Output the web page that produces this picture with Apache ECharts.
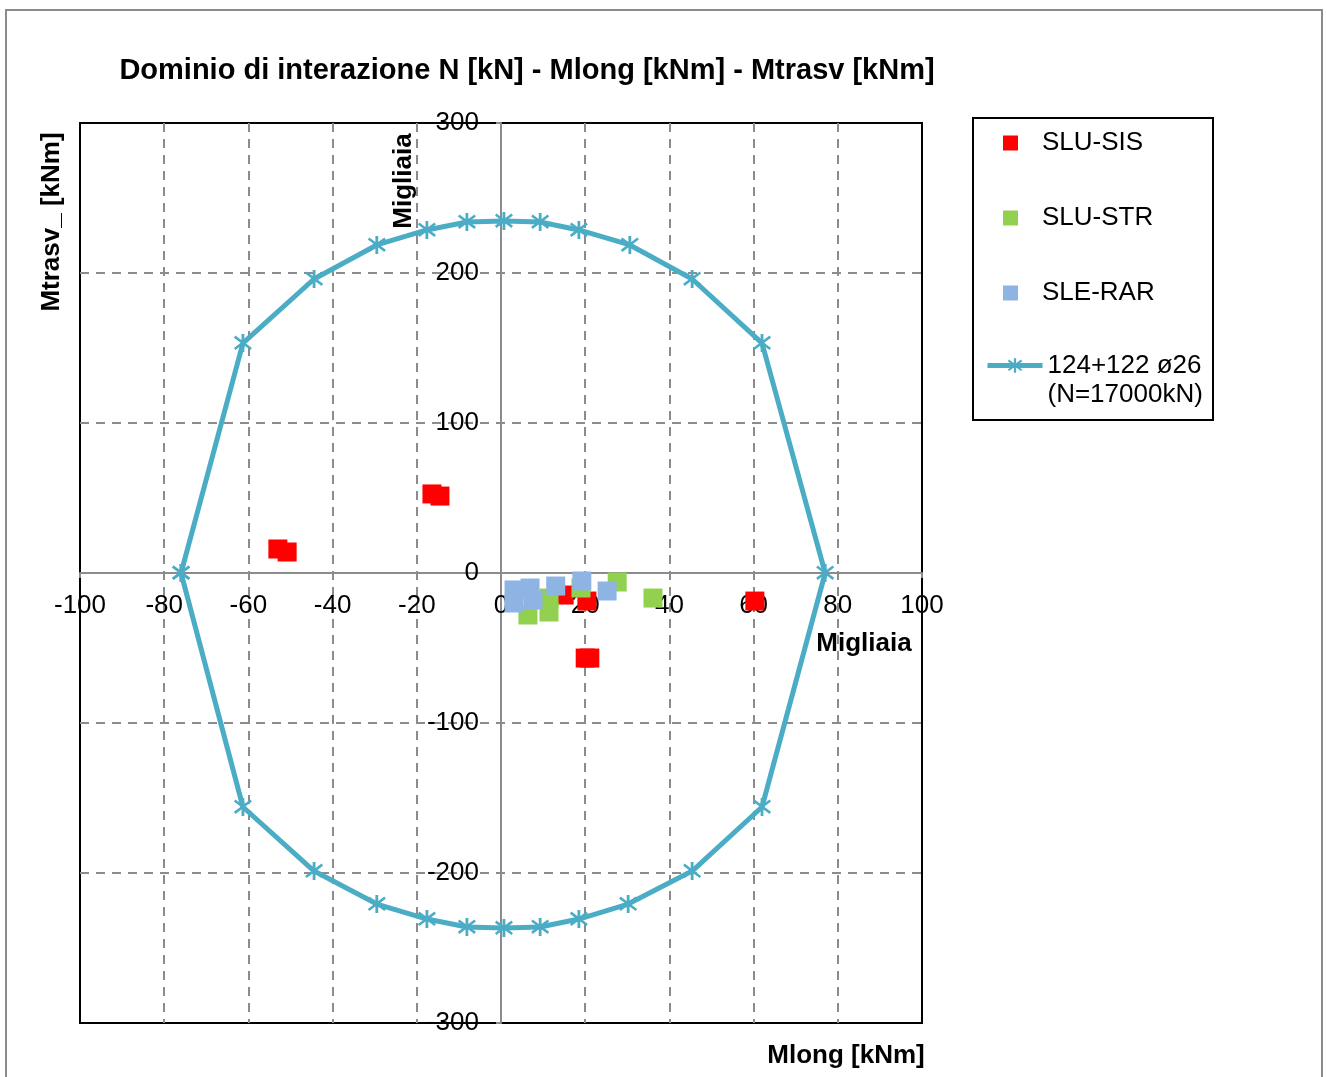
<!DOCTYPE html>
<html>
<head>
<meta charset="utf-8">
<script src="https://cdn.jsdelivr.net/npm/echarts@6/dist/echarts.min.js"></script>
<style>
  html, body { margin: 0; padding: 0; background: #fff; }
  #chart { width: 1327px; height: 1077px; }
</style>
</head>
<body>
<div id="chart"></div>
<script>
// dominio di interazione (Migliaia di kNm su Mlong, kNm su Mtrasv)
var domainX = [-76, -61.3, -44.4, -29.5, -17.6, -8.1, 0.7, 9.3, 18.5, 30.6, 45.4, 62, 77,
               62, 45.4, 30.2, 18.5, 9.3, 0.7, -8.1, -17.6, -29.5, -44.4, -61.3, -76];
var domainY = [0, 153.3, 196, 218.7, 228.7, 234, 234.7, 234, 228.7, 218.7, 196, 153.3, 0,
               -156, -198.7, -220.7, -230.7, -236, -236.7, -236, -230.7, -220.7, -198.7, -156, 0];

// combinazioni di carico
var sisX = [-53, -50.8, -16.4, -14.5, 20, 21.1, 60.3, 15, 20.4];
var sisY = [16, 14, 52.7, 51.3, -56.7, -56.7, -18.7, -14.7, -18.7];
var strX = [27.6, 36.1, 6.4, 11.4, 11.4, 19];
var strY = [-6, -16.7, -28, -16.7, -26, -10];
var rarX = [3.1, 3.1, 6.9, 7.6, 13, 19.2, 25.2];
var rarY = [-11.3, -20, -10, -18, -8.7, -5.3, -12];

var xTicks = [-100, 100, 20];
var yTicks = [-300, 300, 100];

var seriesNames = ['SLU-SIS', 'SLU-STR', 'SLE-RAR', '124+122 ø26\n(N=17000kN)'];

function pairs(xs, ys) {
    return xs.map(function (x, i) { return [x, ys[i]]; });
}

// asterisco tipo Excel
var starPath = 'path://M8.5,0L11.5,0L11.5,20L8.5,20Z' +
    'M2,1.6L19.6,15.4L18,17.8L0.4,4Z' +
    'M18,1.6L19.6,4L2,17.8L0.4,15.4Z';

var font = 'Liberation Sans, Arial, sans-serif';

var myChart = echarts.init(document.getElementById('chart'));

var gridLeft = 80, gridTop = 123, gridW = 842, gridH = 900;

var option = {
    animation: false,
    backgroundColor: '#fff',
    textStyle: { fontFamily: font },
    grid: {
        left: gridLeft, top: gridTop, width: gridW, height: gridH
    },
    xAxis: {
        type: 'value',
        position: 'bottom',
        offset: -gridH / 2,   // asse sullo zero di Mtrasv
        z: 2,
        min: xTicks[0], max: xTicks[1], interval: xTicks[2],
        axisLine: { onZero: false, lineStyle: { color: '#8c8c8c', width: 2 } },
        axisTick: { show: true, length: 5, lineStyle: { color: '#8c8c8c', width: 2 } },
        axisLabel: { color: '#000', fontSize: 26, margin: 20 },
        splitLine: { showMinLine: false, showMaxLine: false,
                     lineStyle: { color: '#8c8c8c', width: 2, type: [9, 7] } }
    },
    yAxis: {
        type: 'value',
        position: 'left',
        offset: -gridW / 2,   // asse sullo zero di Mlong
        z: 2,
        min: yTicks[0], max: yTicks[1], interval: yTicks[2],
        axisLine: { onZero: false, lineStyle: { color: '#8c8c8c', width: 2 } },
        axisTick: { show: true, length: 5, lineStyle: { color: '#8c8c8c', width: 2 } },
        axisLabel: { color: '#000', fontSize: 26, margin: 22 },
        splitLine: { showMinLine: false, showMaxLine: false,
                     lineStyle: { color: '#8c8c8c', width: 2, type: [9, 7] } }
    },
    legend: [
        {
            orient: 'vertical',
            left: 998, top: 125,
            itemWidth: 15, itemHeight: 15,
            itemGap: 49,
            data: seriesNames.slice(0, 3),
            textStyle: { fontSize: 26, color: '#000', padding: [0, 0, 0, 19] }
        },
        {
            orient: 'vertical',
            left: 980, top: 317,
            itemWidth: 55, itemHeight: 18,
            data: [seriesNames[3]],
            lineStyle: { width: 5 },
            // riga vuota sopra per allineare il simbolo alla prima riga
            formatter: function (name) { return ' \n' + name; },
            textStyle: { fontSize: 26, color: '#000', lineHeight: 29 }
        }
    ],
    graphic: [
        // bordo esterno
        { type: 'rect', shape: { x: 6, y: 10, width: 1316, height: 1080 },
          style: { fill: 'none', stroke: '#8c8c8c', lineWidth: 2 }, silent: true },
        // bordo area del grafico
        { type: 'rect', z: 1, shape: { x: gridLeft, y: gridTop, width: gridW, height: gridH },
          style: { fill: 'none', stroke: '#000', lineWidth: 2 }, silent: true },
        // riquadro legenda
        { type: 'rect', shape: { x: 973, y: 118, width: 240, height: 302 },
          style: { fill: 'none', stroke: '#000', lineWidth: 2 }, silent: true },
        { type: 'text', x: 527, y: 71,
          style: { text: 'Dominio di interazione N [kN] - Mlong [kNm] - Mtrasv [kNm]',
                   font: 'bold 29px ' + font, fill: '#000',
                   align: 'center', verticalAlign: 'middle' } },
        { type: 'text', x: 52, y: 222, rotation: Math.PI / 2,
          style: { text: 'Mtrasv_ [kNm]', font: 'bold 26px ' + font, fill: '#000',
                   align: 'center', verticalAlign: 'middle' } },
        { type: 'text', x: 846, y: 1056,
          style: { text: 'Mlong [kNm]', font: 'bold 26px ' + font, fill: '#000',
                   align: 'center', verticalAlign: 'middle' } },
        { type: 'text', x: 404, y: 181, rotation: Math.PI / 2,
          style: { text: 'Migliaia', font: 'bold 26px ' + font, fill: '#000',
                   align: 'center', verticalAlign: 'middle' } },
        { type: 'text', x: 864, y: 644,
          style: { text: 'Migliaia', font: 'bold 26px ' + font, fill: '#000',
                   align: 'center', verticalAlign: 'middle' } }
    ],
    series: [
        {
            name: seriesNames[3],
            type: 'line',
            data: pairs(domainX, domainY),
            symbol: starPath,
            symbolSize: 18,
            showAllSymbol: true,
            lineStyle: { color: '#4bacc6', width: 5 },
            itemStyle: { color: '#4bacc6' },
            z: 3
        },
        {
            name: seriesNames[0],
            type: 'scatter',
            symbol: 'rect',
            symbolSize: 19,
            data: pairs(sisX, sisY),
            itemStyle: { color: '#ff0000', opacity: 1 },
            z: 4
        },
        {
            name: seriesNames[1],
            type: 'scatter',
            symbol: 'rect',
            symbolSize: 19,
            data: pairs(strX, strY),
            itemStyle: { color: '#92d050', opacity: 1 },
            z: 4
        },
        {
            name: seriesNames[2],
            type: 'scatter',
            symbol: 'rect',
            symbolSize: 19,
            data: pairs(rarX, rarY),
            itemStyle: { color: '#8eb4e3', opacity: 1 },
            z: 4
        }
    ]
};

myChart.setOption(option);
window.addEventListener('resize', function () {
    myChart.resize();
});
</script>
</body>
</html>
